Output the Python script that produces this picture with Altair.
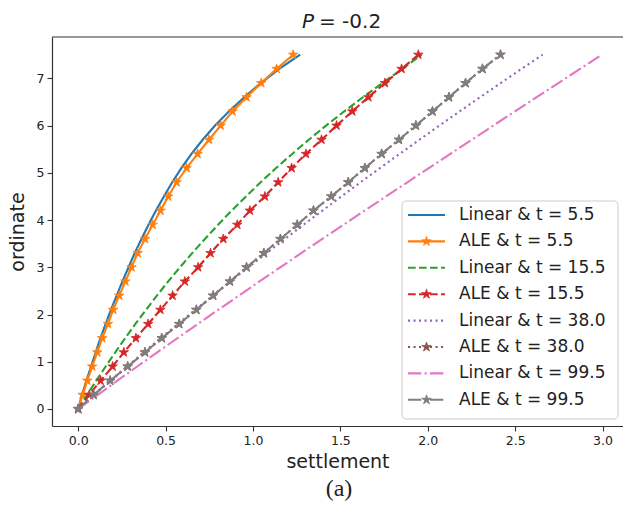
import altair as alt
import pandas as pd

# Ordinate levels shared by every curve (0.0 to 7.5 in steps of 0.3)
ordinate = [0.0, 0.3, 0.6, 0.9, 1.2, 1.5, 1.8, 2.1, 2.4, 2.7, 3.0, 3.3, 3.6,
            3.9, 4.2, 4.5, 4.8, 5.1, 5.4, 5.7, 6.0, 6.3, 6.6, 6.9, 7.2, 7.5]

# Settlement for each model / time
linear_5_5 = [0.0, 0.022, 0.047, 0.073, 0.100, 0.127, 0.157, 0.187, 0.220, 0.253, 0.288, 0.323, 0.362,
              0.402, 0.445, 0.490, 0.538, 0.590, 0.648, 0.712, 0.783, 0.862, 0.950, 1.045, 1.150, 1.270]
ale_5_5 = [0.0, 0.025, 0.052, 0.080, 0.109, 0.137, 0.170, 0.200, 0.235, 0.270, 0.305, 0.340, 0.382,
           0.426, 0.471, 0.515, 0.563, 0.620, 0.683, 0.748, 0.815, 0.883, 0.963, 1.047, 1.135, 1.230]
linear_15_5 = [0.0, 0.051, 0.103, 0.157, 0.212, 0.269, 0.327, 0.388, 0.450, 0.515, 0.582, 0.652, 0.725,
               0.800, 0.878, 0.960, 1.044, 1.132, 1.224, 1.319, 1.418, 1.522, 1.629, 1.740, 1.855, 1.965]
ale_15_5 = [0.0, 0.063, 0.128, 0.197, 0.261, 0.330, 0.400, 0.470, 0.540, 0.610, 0.686, 0.757, 0.830,
            0.910, 0.982, 1.068, 1.144, 1.221, 1.303, 1.392, 1.478, 1.568, 1.660, 1.755, 1.850, 1.946]
linear_38_0 = [0.0, 0.092, 0.185, 0.280, 0.375, 0.472, 0.570, 0.670, 0.770, 0.871, 0.974, 1.078, 1.183,
               1.289, 1.397, 1.506, 1.615, 1.726, 1.839, 1.952, 2.066, 2.182, 2.299, 2.417, 2.536, 2.657]
ale_38_0 = [0.0, 0.088, 0.183, 0.283, 0.382, 0.478, 0.578, 0.676, 0.772, 0.868, 0.963, 1.062, 1.157,
            1.253, 1.346, 1.448, 1.545, 1.640, 1.736, 1.835, 1.932, 2.027, 2.121, 2.216, 2.313, 2.416]
linear_99_5 = [0.0, 0.112, 0.224, 0.338, 0.452, 0.568, 0.684, 0.801, 0.919, 1.037, 1.156, 1.276, 1.397,
               1.518, 1.639, 1.761, 1.883, 2.006, 2.129, 2.252, 2.375, 2.499, 2.623, 2.747, 2.871, 2.995]
ale_99_5 = [0.0, 0.088, 0.183, 0.283, 0.382, 0.478, 0.578, 0.676, 0.772, 0.868, 0.963, 1.062, 1.157,
            1.253, 1.346, 1.448, 1.545, 1.640, 1.736, 1.835, 1.932, 2.027, 2.121, 2.216, 2.313, 2.416]

labels = ["Linear & t = 5.5", "ALE & t = 5.5", "Linear & t = 15.5", "ALE & t = 15.5",
          "Linear & t = 38.0", "ALE & t = 38.0", "Linear & t = 99.5", "ALE & t = 99.5"]
settlements = [linear_5_5, ale_5_5, linear_15_5, ale_15_5,
               linear_38_0, ale_38_0, linear_99_5, ale_99_5]

x_ticks = [0.0, 0.5, 1.0, 1.5, 2.0, 2.5, 3.0]
y_ticks = [0, 1, 2, 3, 4, 5, 6, 7]

# Styling per series (matplotlib tab10 colours and line styles)
colors = ["#1f77b4", "#ff7f0e", "#2ca02c", "#d62728",
          "#9467bd", "#8c564b", "#e377c2", "#7f7f7f"]
DASHED = [7.7, 3.3]
DOTTED = [2.1, 3.4]
DASHDOT = [13.3, 3.3, 2.1, 3.3]
dashes = [None, None, DASHED, DASHED, DOTTED, DOTTED, DASHDOT, DASHDOT]
stars = [False, True, False, True, False, True, False, True]

# Five-pointed star marker as an SVG path in the unit box
STAR = ("M0,-1L0.2245,-0.309L0.951,-0.309L0.363,0.118L0.588,0.809L0,0.382"
        "L-0.588,0.809L-0.363,0.118L-0.951,-0.309L-0.2245,-0.309Z")
STAR_SIZE = 100

W, H = 571, 389
FONT = "DejaVu Sans"

rows = []
for name, xs in zip(labels, settlements):
    for xv, yv in zip(xs, ordinate):
        rows.append({"series": name, "settlement": xv, "ordinate": yv})
df = pd.DataFrame(rows)

x_enc = alt.X("settlement:Q",
              scale=alt.Scale(domain=[-0.15, 3.117], nice=False, zero=False),
              axis=alt.Axis(values=x_ticks, format=".1f", title="settlement", grid=False,
                            orient="bottom", tickSize=5, labelPadding=3, titlePadding=6))
y_enc = alt.Y("ordinate:Q",
              scale=alt.Scale(domain=[-0.36, 7.875], nice=False, zero=False),
              axis=alt.Axis(values=y_ticks, format="d", title="ordinate", grid=False,
                            orient="left", tickSize=5, labelPadding=3, titlePadding=9))

layers = []
for i, name in enumerate(labels):
    base = alt.Chart(df).transform_filter(alt.datum.series == name)
    line_kw = dict(color=colors[i], strokeWidth=2.1)
    if dashes[i] is not None:
        line_kw["strokeDash"] = dashes[i]
    layers.append(base.mark_line(**line_kw).encode(x=x_enc, y=y_enc))
    if stars[i]:
        layers.append(base.mark_point(shape=STAR, filled=True, size=STAR_SIZE, opacity=1,
                                      color=colors[i], stroke=colors[i], strokeWidth=0.8)
                      .encode(x=x_enc, y=y_enc))

one = pd.DataFrame({"k": [0]})

# Top spine of the axes frame
layers.append(alt.Chart(one).mark_rule(color="#333333", strokeWidth=1.2)
              .encode(x=alt.value(0), x2=alt.value(W), y=alt.value(0)))

# Legend box
LX0, LX1, LY0, LY1 = 350, 566, 164, 382
layers.append(alt.Chart(one).mark_rect(fill="white", fillOpacity=0.8, stroke="#cccccc",
                                       strokeWidth=1, cornerRadius=4)
              .encode(x=alt.value(LX0), x2=alt.value(LX1), y=alt.value(LY0), y2=alt.value(LY1)))

for i, name in enumerate(labels):
    ly = 178 + 26.4 * i
    entry = alt.Chart(pd.DataFrame({"label": [name]}))
    rule_kw = dict(color=colors[i], strokeWidth=2.1)
    if dashes[i] is not None:
        rule_kw["strokeDash"] = dashes[i]
    layers.append(entry.mark_rule(**rule_kw)
                  .encode(x=alt.value(356), x2=alt.value(393), y=alt.value(ly)))
    if stars[i]:
        layers.append(entry.mark_point(shape=STAR, filled=True, size=STAR_SIZE, opacity=1,
                                       color=colors[i], stroke=colors[i], strokeWidth=0.8)
                      .encode(x=alt.value(374.5), y=alt.value(ly)))
    layers.append(entry.mark_text(align="left", baseline="middle", font=FONT,
                                  fontSize=17, color="#222222")
                  .encode(x=alt.value(407), y=alt.value(ly), text="label:N"))

# Title: italic P followed by the value
layers.append(alt.Chart(pd.DataFrame({"t": ["P"]}))
              .mark_text(align="right", baseline="alphabetic", font=FONT, fontSize=20,
                         fontStyle="italic", color="#222222")
              .encode(x=alt.value(262), y=alt.value(-9), text="t:N"))
layers.append(alt.Chart(pd.DataFrame({"t": ["= -0.2"]}))
              .mark_text(align="left", baseline="alphabetic", font=FONT, fontSize=20,
                         color="#222222")
              .encode(x=alt.value(267), y=alt.value(-9), text="t:N"))

# Sub-figure caption
layers.append(alt.Chart(pd.DataFrame({"t": ["(a)"]}))
              .mark_text(align="center", baseline="middle", font="Liberation Serif",
                         fontSize=24, color="#222222")
              .encode(x=alt.value(287), y=alt.value(452), text="t:N"))

chart = alt.layer(*layers).properties(
    width=W, height=H,
    autosize=alt.AutoSizeParams(type="none"),
    padding={"left": 52, "top": 37, "right": 0, "bottom": 85},
    background="white",
).configure_view(stroke=None).configure_axis(
    domainColor="#333333", domainWidth=1.2, tickColor="#333333", tickWidth=1.1,
    labelColor="#222222", labelFont=FONT, labelFontSize=12.5,
    titleFont=FONT, titleFontSize=19, titleFontWeight="normal", titleColor="#222222",
)

chart.save("out.html", embed_options={"renderer": "svg", "actions": False})
